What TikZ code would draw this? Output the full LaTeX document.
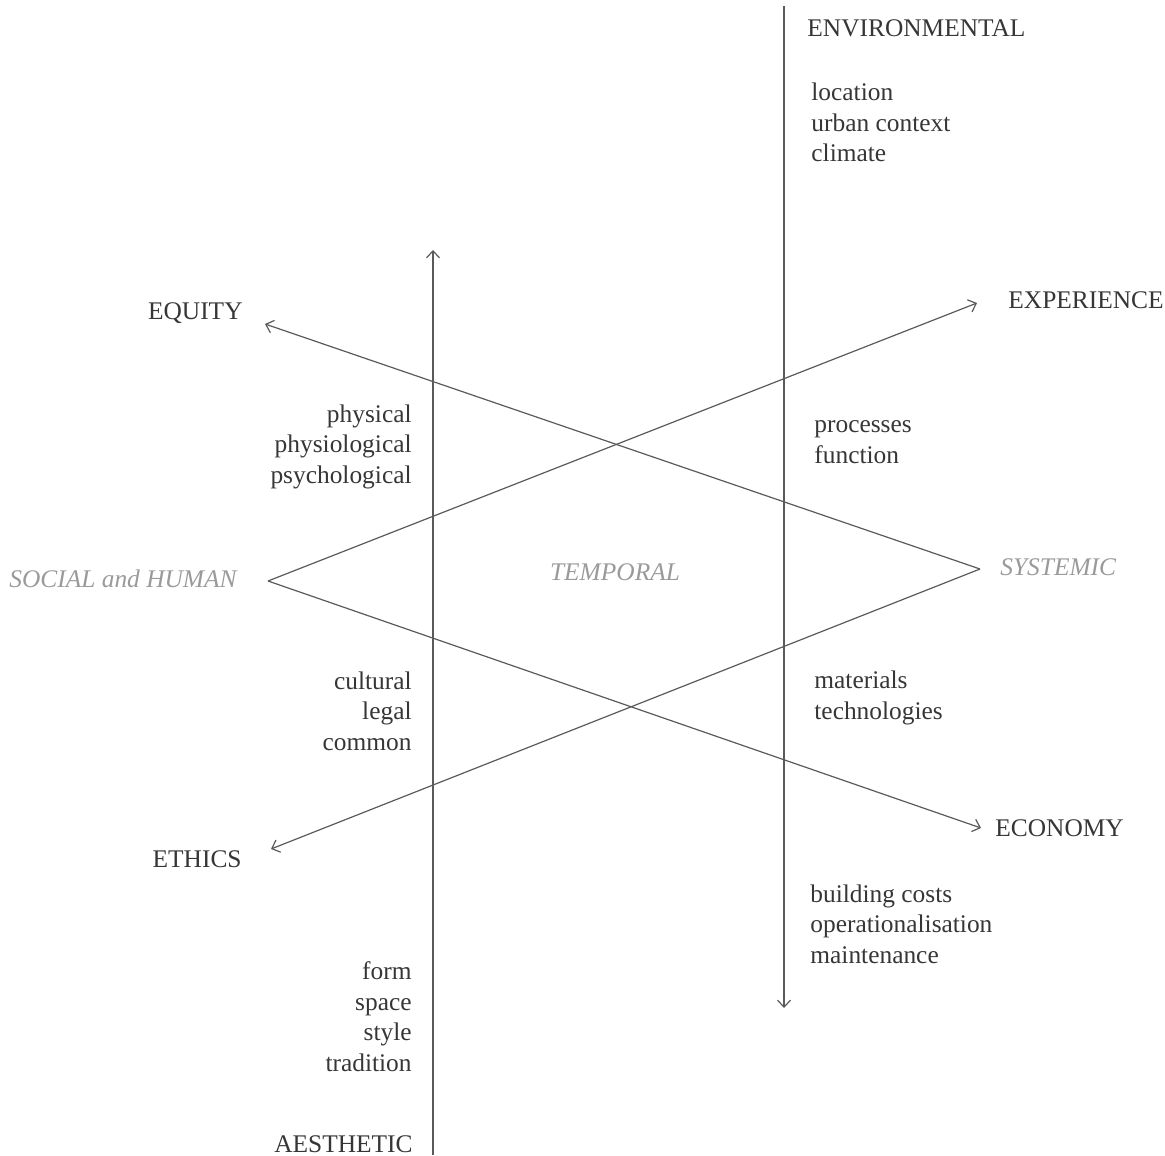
\documentclass[tikz,border=0pt]{standalone}
\usepackage{fontspec}
\setmainfont{Liberation Serif}
\usetikzlibrary{arrows.meta}
\definecolor{inkgray}{HTML}{363636}
\definecolor{axisgray}{HTML}{5A5A5A}
\definecolor{palegray}{HTML}{9A9A9A}
\begin{document}
\begin{tikzpicture}[x=0.5pt, y=-0.5pt,
    every node/.style={inner sep=0pt, text=inkgray, font=\fontsize{12.7}{15.25}\selectfont},
    axis/.style={draw=axisgray, line width=0.6pt, -{Straight Barb[length=3.5pt,width=6.5pt]}},
    dimlabel/.style={text=palegray, font=\fontsize{12.7}{15.25}\selectfont\itshape},
    leftlist/.style={anchor=base east, align=right},
    rightlist/.style={anchor=base west, align=left}]
    \useasboundingbox (0,0) rectangle (1165,1155);
         %end points
         \coordinate (envtop) at (784,6);
         \coordinate (envend) at (784,1008);
         \coordinate (aesbot) at (433,1155);
         \coordinate (aestop) at (433,250);
         \coordinate (socvert) at (268,581);
         \coordinate (sysvert) at (980,569);
         \coordinate (exptip) at (977,303);
         \coordinate (ecotip) at (981,828);
         \coordinate (equtip) at (265,324);
         \coordinate (ethtip) at (271,849);
         %axes
         \draw[axis] (envtop) -- (envend);
         \draw[axis] (aesbot) -- (aestop);
         \draw[axis] (socvert) -- (exptip);
         \draw[axis] (socvert) -- (ecotip);
         \draw[axis] (sysvert) -- (equtip);
         \draw[axis] (sysvert) -- (ethtip);
         %nodes (lists sit on their last line)
         \node[anchor=base west] at (807,37) (environmental) {ENVIRONMENTAL};
         \node[rightlist] at (811,162) (envlist) {location\\urban context\\climate};
         \node[anchor=base west] at (1008,308) (experience) {EXPERIENCE};
         \node[rightlist] at (814,463) (explist) {processes\\function};
         \node[dimlabel, anchor=base west] at (1000,575) (systemic) {SYSTEMIC};
         \node[rightlist] at (814,719) (syslist) {materials\\technologies};
         \node[anchor=base west] at (995,836) (economy) {ECONOMY};
         \node[rightlist] at (810,963) (ecolist) {building costs\\operationalisation\\maintenance};
         \node[anchor=base east] at (243,319) (equity) {EQUITY};
         \node[leftlist] at (412,483) (equlist) {physical\\physiological\\psychological};
         \node[dimlabel, anchor=base east] at (237,587) (social) {SOCIAL and HUMAN};
         \node[dimlabel, anchor=base] at (615,580) (temporal) {TEMPORAL};
         \node[leftlist] at (412,750) (ethlist) {cultural\\legal\\common};
         \node[anchor=base east] at (242,867) (ethics) {ETHICS};
         \node[leftlist] at (412,1071) (aeslist) {form\\space\\style\\tradition};
         \node[anchor=base east] at (413,1152) (aesthetic) {AESTHETIC};
\end{tikzpicture}
\end{document}
